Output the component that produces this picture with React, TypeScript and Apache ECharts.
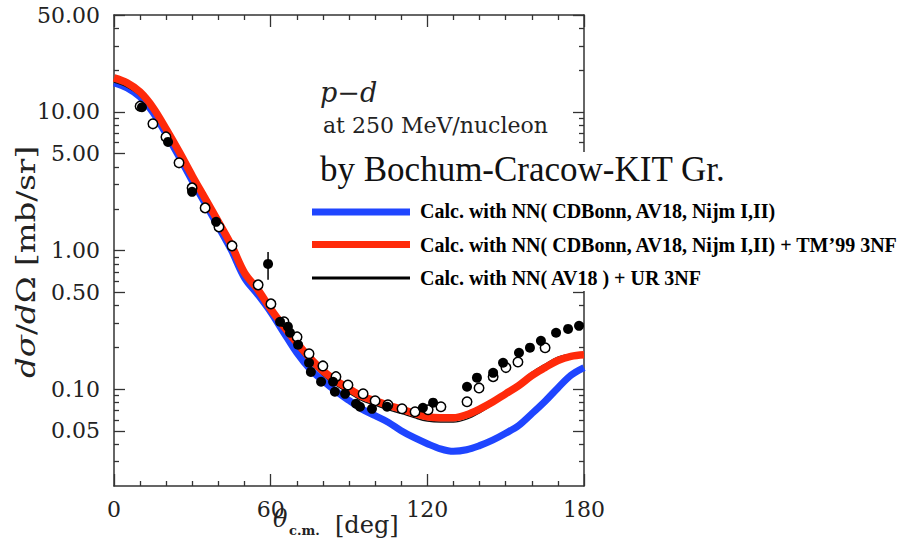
import { useEffect, useRef } from 'react';
import * as echarts from 'echarts';

// Scattering angle grid (deg) for the calculated curves
const angleGrid = [
  0, 5, 10, 15, 20, 25, 30, 35, 40, 45, 50, 55, 60, 65, 70, 75, 80, 85, 90,
  95, 100, 105, 110, 115, 120, 125, 130, 135, 140, 145, 150, 155, 160, 165, 170, 175, 180,
];

// dσ/dΩ [mb/sr] – NN forces only (CDBonn, AV18, Nijm I,II)
const nnOnly = [
  16.2, 14.9, 12.8, 9.85, 6.9, 4.73, 3.17, 2.17, 1.48, 1.0, 0.635, 0.483, 0.36, 0.256, 0.183, 0.14, 0.115, 0.0964, 0.0828,
  0.0717, 0.0643, 0.0577, 0.0501, 0.0446, 0.0404, 0.0371, 0.0356, 0.0365, 0.0391, 0.0428, 0.048, 0.0547, 0.0664, 0.0814, 0.102, 0.126, 0.143,
];
// NN + TM'99 3NF
const nnTm99 = [
  17.6, 16.2, 13.9, 10.7, 7.5, 5.14, 3.45, 2.36, 1.61, 1.09, 0.69, 0.525, 0.379, 0.283, 0.216, 0.168, 0.1355, 0.115, 0.1007,
  0.0887, 0.0824, 0.0765, 0.0718, 0.067, 0.0632, 0.0621, 0.0621, 0.0653, 0.0718, 0.0807, 0.0925, 0.106, 0.125, 0.1426, 0.161, 0.1725, 0.177,
];
// NN (AV18) + Urbana IX 3NF
const nnUr = [
  16.4, 15.1, 13.1, 10.2, 7.16, 4.91, 3.29, 2.25, 1.54, 1.04, 0.66, 0.5, 0.358, 0.265, 0.201, 0.156, 0.126, 0.107, 0.0936,
  0.0825, 0.0766, 0.0711, 0.0668, 0.0623, 0.0588, 0.0578, 0.0578, 0.0607, 0.0675, 0.0775, 0.0925, 0.11, 0.132, 0.151, 0.17, 0.178, 0.181,
];

// Measured cross sections [deg, mb/sr]
const filledPoints: [number, number][] = [
  [10.7, 10.8], [20.7, 6.07], [29.9, 2.65], [39.1, 1.61], [59, 0.8], [63.6, 0.306], [66.6, 0.282],
  [67.4, 0.255], [70.5, 0.209], [74.7, 0.155], [75.4, 0.133], [79.3, 0.113], [83.9, 0.113],
  [84.6, 0.0957], [88.5, 0.0925], [92.7, 0.0784], [94.2, 0.0746], [98.8, 0.0721], [104.6, 0.0746],
  [118.3, 0.0734], [122.2, 0.0798], [135.2, 0.104], [139, 0.121], [145.2, 0.131], [149, 0.155],
  [155.1, 0.183], [159.3, 0.199], [163.5, 0.223], [169.3, 0.255], [173.9, 0.272], [178.1, 0.286],
];
const openPoints: [number, number][] = [
  [10.0, 11.0], [14.9, 8.2], [19.9, 6.6], [24.9, 4.29], [29.9, 2.83], [34.9, 2.03], [40.2, 1.48],
  [45.2, 1.08], [55.2, 0.565], [60.1, 0.412], [65.1, 0.306], [70.1, 0.238], [74.7, 0.18], [80.0, 0.147],
  [85.0, 0.123], [89.6, 0.107], [95.4, 0.0925], [100, 0.0824], [104.9, 0.0771], [110.3, 0.0721],
  [115.3, 0.0687], [120.3, 0.071], [125.2, 0.0746], [135.2, 0.081], [139.8, 0.102], [145.2, 0.123],
  [150.1, 0.143], [154.7, 0.157], [165.1, 0.199],
];
// Error bar on the 59° point
const errorBar: [number, number][] = [[59, 0.614], [59, 0.977]];

// Axis ticks
const yMajorTicks = [50, 10, 5, 1, 0.5, 0.1, 0.05];
const yMinorTicks = [40, 30, 20, 9, 8, 7, 6, 4, 3, 2, 0.9, 0.8, 0.7, 0.6, 0.4, 0.3, 0.2, 0.09, 0.08, 0.07, 0.06, 0.04, 0.03];
const yMin = 0.02;
const yMax = 50;
const xMin = 0;
const xMax = 180;
const xStep = 60;

const legendNames = [
  'Calc. with NN( CDBonn, AV18, Nijm I,II)',
  'Calc. with NN( CDBonn, AV18, Nijm I,II) + TM\u201999 3NF',
  'Calc. with NN( AV18 ) + UR 3NF',
];

const BLUE = '#1f45ff';
const RED = '#ff2a0a';
const INK = '#000';
const AXIS = '#333';
const SERIF = '"DejaVu Serif", serif';
const TIMES = '"Liberation Serif", "Times New Roman", serif';

const pair = (xs: number[], ys: number[]) => xs.map((x, i) => [x, ys[i]]);

function yAxisDef(position: 'left' | 'right', ticks: number[], len: number, labels: boolean, line: boolean) {
  return {
    type: 'log',
    logBase: 10,
    min: yMin,
    max: yMax,
    position,
    axisLine: { show: line, lineStyle: { color: AXIS, width: 1.5 } },
    axisTick: { show: true, inside: true, length: len, customValues: ticks, lineStyle: { color: AXIS, width: 1.3 } },
    axisLabel: labels
      ? {
          show: true,
          customValues: ticks,
          formatter: (v: number) => Number(v).toFixed(2),
          margin: 14,
          fontFamily: SERIF,
          fontSize: 22,
          color: '#222',
        }
      : { show: false },
    splitLine: { show: false },
    minorTick: { show: false },
  };
}

function xAxisDef(position: 'top' | 'bottom', labels: boolean) {
  return {
    type: 'value',
    min: xMin,
    max: xMax,
    interval: xStep,
    position,
    axisLine: { show: true, onZero: false, lineStyle: { color: AXIS, width: 1.5 } },
    axisTick: { show: true, inside: true, length: 12, lineStyle: { color: AXIS, width: 1.3 } },
    minorTick: { show: true, splitNumber: 6, length: 5, lineStyle: { color: AXIS, width: 1.3 } },
    axisLabel: labels
      ? { show: true, margin: 12, fontFamily: SERIF, fontSize: 22, color: '#222' }
      : { show: false },
    splitLine: { show: false },
  };
}

export default function App() {
  const ref = useRef<HTMLDivElement>(null);

  useEffect(() => {
    if (!ref.current) return;
    const chart = echarts.init(ref.current, undefined, { renderer: 'svg' });

    const option = {
      animation: false,
      backgroundColor: '#fff',
      grid: { left: 114, top: 15, width: 470, height: 471, containLabel: false },
      xAxis: [xAxisDef('bottom', true), xAxisDef('top', false)],
      yAxis: [
        yAxisDef('left', yMajorTicks, 11, true, true),
        yAxisDef('left', yMinorTicks, 5, false, false),
        yAxisDef('right', yMajorTicks, 11, false, true),
        yAxisDef('right', yMinorTicks, 5, false, false),
      ],
      series: [
        {
          name: legendNames[0],
          type: 'line',
          data: pair(angleGrid, nnOnly),
          smooth: 0.35,
          showSymbol: false,
          lineStyle: { color: BLUE, width: 7 },
          z: 2,
        },
        {
          name: legendNames[2],
          type: 'line',
          data: pair(angleGrid, nnUr),
          smooth: 0.35,
          showSymbol: false,
          lineStyle: { color: '#111', width: 1.5 },
          z: 3,
        },
        {
          name: legendNames[1],
          type: 'line',
          data: pair(angleGrid, nnTm99),
          smooth: 0.35,
          showSymbol: false,
          lineStyle: { color: RED, width: 7.5 },
          z: 4,
        },
        {
          type: 'line',
          data: errorBar,
          showSymbol: false,
          lineStyle: { color: INK, width: 1.5 },
          z: 5,
        },
        {
          type: 'scatter',
          data: openPoints,
          symbol: 'circle',
          symbolSize: 9.5,
          itemStyle: { color: '#fff', borderColor: INK, borderWidth: 1.5, opacity: 1 },
          z: 6,
        },
        {
          type: 'scatter',
          data: filledPoints,
          symbol: 'circle',
          symbolSize: 10,
          itemStyle: { color: INK, opacity: 1 },
          z: 7,
        },
      ],
      graphic: [
        // panel behind the title and legend block
        { type: 'rect', z: 50, shape: { x: 305, y: 152, width: 608, height: 139 }, style: { fill: '#fff' } },
        {
          type: 'text', z: 60,
          style: { text: 'p\u2212d', x: 320, y: 92, font: `italic 27px ${SERIF}`, fill: '#222', align: 'left', verticalAlign: 'middle' },
        },
        {
          type: 'text', z: 60,
          style: { text: 'at 250 MeV/nucleon', x: 323, y: 125.5, font: `22px ${SERIF}`, fill: '#222', align: 'left', verticalAlign: 'middle' },
        },
        {
          type: 'text', z: 60,
          style: { text: 'by Bochum-Cracow-KIT Gr.', x: 320, y: 169, font: `35px ${TIMES}`, fill: '#111', align: 'left', verticalAlign: 'middle' },
        },
        { type: 'line', z: 60, shape: { x1: 312, y1: 212, x2: 410, y2: 212 }, style: { stroke: BLUE, lineWidth: 7 } },
        { type: 'line', z: 60, shape: { x1: 312, y1: 244.5, x2: 410, y2: 244.5 }, style: { stroke: RED, lineWidth: 7 } },
        { type: 'line', z: 60, shape: { x1: 312, y1: 278, x2: 410, y2: 278 }, style: { stroke: INK, lineWidth: 3 } },
        ...legendNames.map((name, i) => ({
          type: 'text', z: 60,
          style: {
            text: name, x: 420, y: [211, 244.5, 277.5][i],
            font: `bold 20px ${TIMES}`, fill: '#000', align: 'left', verticalAlign: 'middle',
          },
        })),
        // x-axis title
        {
          type: 'text', z: 60,
          style: { text: '\u03b8', x: 273, y: 519, font: `italic 24px ${SERIF}`, fill: '#222', align: 'left', verticalAlign: 'middle' },
        },
        {
          type: 'text', z: 60,
          style: { text: 'c.m.', x: 289, y: 530, font: `bold 13px ${SERIF}`, fill: '#222', align: 'left', verticalAlign: 'middle' },
        },
        {
          type: 'text', z: 60,
          style: { text: '[deg]', x: 335, y: 525, font: `24px ${SERIF}`, fill: '#222', align: 'left', verticalAlign: 'middle' },
        },
        // y-axis title
        {
          type: 'text', z: 60,
          x: 26, y: 262, rotation: Math.PI / 2, scaleX: 1.25,
          style: {
            text: '{i|d\u03c3}/{i|d}\u03a9 [mb/sr]',
            x: 0, y: 0,
            font: `26px ${SERIF}`,
            fill: '#222',
            align: 'center',
            verticalAlign: 'middle',
            rich: { i: { fontStyle: 'italic', fontFamily: SERIF, fontSize: 26, fill: '#222' } },
          },
        },
      ],
    };

    chart.setOption(option as any);
    return () => chart.dispose();
  }, []);

  return (
    <div
      ref={ref}
      style={{ position: 'fixed', left: 0, top: 0, width: 913, height: 539, background: '#fff' }}
    />
  );
}
